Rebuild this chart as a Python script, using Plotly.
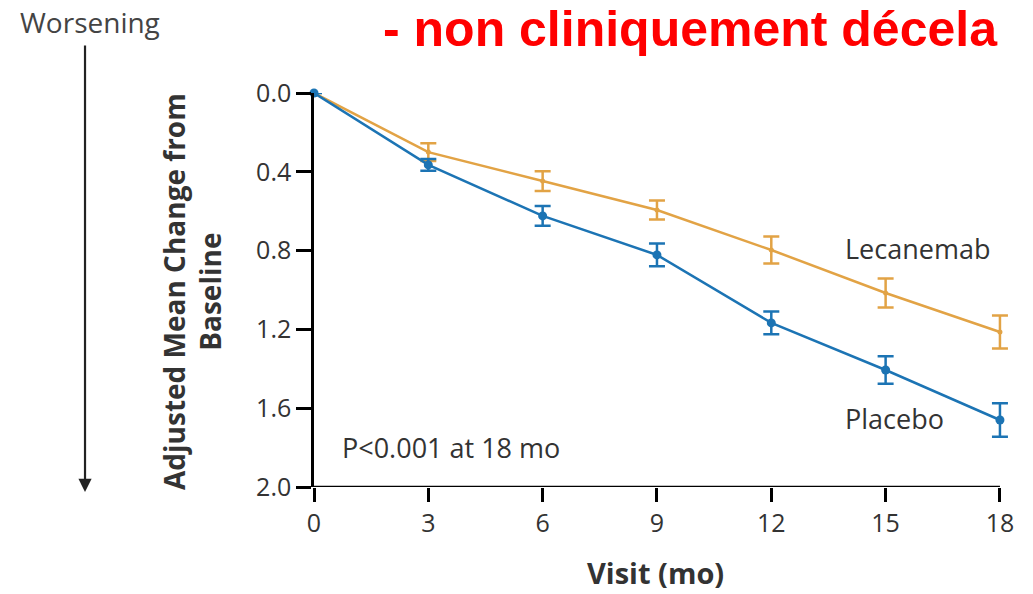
import plotly.graph_objects as go

visits = [0, 3, 6, 9, 12, 15, 18]
lecanemab = [0.0, 0.30, 0.447, 0.594, 0.797, 1.015, 1.213]
lecanemab_err = [0.0, 0.045, 0.05, 0.048, 0.068, 0.074, 0.084]
placebo = [0.0, 0.365, 0.624, 0.822, 1.167, 1.406, 1.66]
placebo_err = [0.0, 0.03, 0.05, 0.058, 0.058, 0.07, 0.085]
y_ticks = [0.0, 0.4, 0.8, 1.2, 1.6, 2.0]
x_ticks = [0, 3, 6, 9, 12, 15, 18]

ORANGE = "#E2A345"
BLUE = "#1C74B4"
TXT = "#333333"
FONT = "Open Sans, Lato, sans-serif"

X_MAX = 18.5
L, T, B = 314, 93, 107
W_FIG, H_FIG = 1033, 594
PLOT_W = (1000 - L) * X_MAX / 18
R = W_FIG - L - PLOT_W

fig = go.Figure()
fig.add_trace(go.Scatter(
    x=visits, y=lecanemab, mode="lines+markers",
    line=dict(color=ORANGE, width=2.5),
    marker=dict(color=ORANGE, size=5),
    error_y=dict(type="data", array=lecanemab_err, color=ORANGE, thickness=2.5, width=8),
    cliponaxis=False, showlegend=False))
fig.add_trace(go.Scatter(
    x=visits, y=placebo, mode="lines+markers",
    line=dict(color=BLUE, width=2.5),
    marker=dict(color=BLUE, size=9),
    error_y=dict(type="data", array=placebo_err, color=BLUE, thickness=2.5, width=8),
    cliponaxis=False, showlegend=False))

fig.update_layout(
    width=W_FIG, height=H_FIG,
    margin=dict(l=L, r=R, t=T, b=B, autoexpand=False),
    plot_bgcolor="white", paper_bgcolor="white",
    font=dict(family=FONT, color=TXT, size=26),
    xaxis=dict(range=[0, X_MAX], tickvals=x_ticks, ticktext=[str(v) for v in x_ticks],
               showgrid=False, zeroline=False, showline=False, automargin=False,
               ticks="outside", ticklen=14, tickwidth=2.5, tickcolor="black",
               tickfont=dict(size=25, color=TXT)),
    yaxis=dict(range=[2.0, 0.0], tickvals=y_ticks, ticktext=[f"{v:.1f}" for v in y_ticks],
               showgrid=False, zeroline=False, showline=True, linecolor="black", linewidth=2.5,
               automargin=False,
               ticks="outside", ticklen=15, tickwidth=2.5, tickcolor="black",
               tickfont=dict(size=25, color=TXT)),
)

# x axis line drawn only from 0 to 18 (axis range extended so end error bars are not clipped)
fig.add_shape(type="line", x0=0, x1=18, y0=2.0, y1=2.0, xref="x", yref="y",
              line=dict(color="black", width=2.5), layer="above")


def px_to_paper(xp, yp):
    return (xp - L) / PLOT_W, (H_FIG - B - yp) / (H_FIG - T - B)


# axis titles
px, py = px_to_paper(656, 572)
fig.add_annotation(text="<b>Visit (mo)</b>", x=px, y=py, xref="paper", yref="paper", showarrow=False,
                   xanchor="center", yanchor="middle", borderpad=0, font=dict(size=29, color=TXT))
px, py = px_to_paper(192, 292)
fig.add_annotation(text="<b>Adjusted Mean Change from<br>Baseline</b>", x=px, y=py,
                   xref="paper", yref="paper", showarrow=False, textangle=-90,
                   xanchor="center", yanchor="middle", font=dict(size=28, color=TXT))

for text, xp, yp in [("Lecanemab", 843, 248), ("Placebo", 843, 418), ("P<0.001 at 18 mo", 340, 447)]:
    px, py = px_to_paper(xp, yp)
    fig.add_annotation(text=text, x=px, y=py, xref="paper", yref="paper", showarrow=False,
                       xanchor="left", yanchor="middle", font=dict(size=27, color=TXT))

px, py = px_to_paper(18, 22)
fig.add_annotation(text="Worsening", x=px, y=py, xref="paper", yref="paper", showarrow=False,
                   xanchor="left", yanchor="middle", font=dict(size=28, color="#444444"))

px, py = px_to_paper(382, 0)
fig.add_annotation(text="<b>- non cliniquement décela</b>", x=px, y=py, xref="paper", yref="paper",
                   showarrow=False, xanchor="left", yanchor="top", borderpad=0,
                   font=dict(size=50, color="#FF0000", family="Liberation Sans, Arial, sans-serif"))

ax1, ay1 = px_to_paper(85, 492)
fig.add_annotation(x=ax1, y=ay1, ax=0, ay=-(492 - 44), xref="paper", yref="paper",
                   axref="pixel", ayref="pixel",
                   text="", showarrow=True, arrowhead=2, arrowsize=1.2, arrowwidth=2.2, arrowcolor="#222222")

fig.write_html("out.html")
